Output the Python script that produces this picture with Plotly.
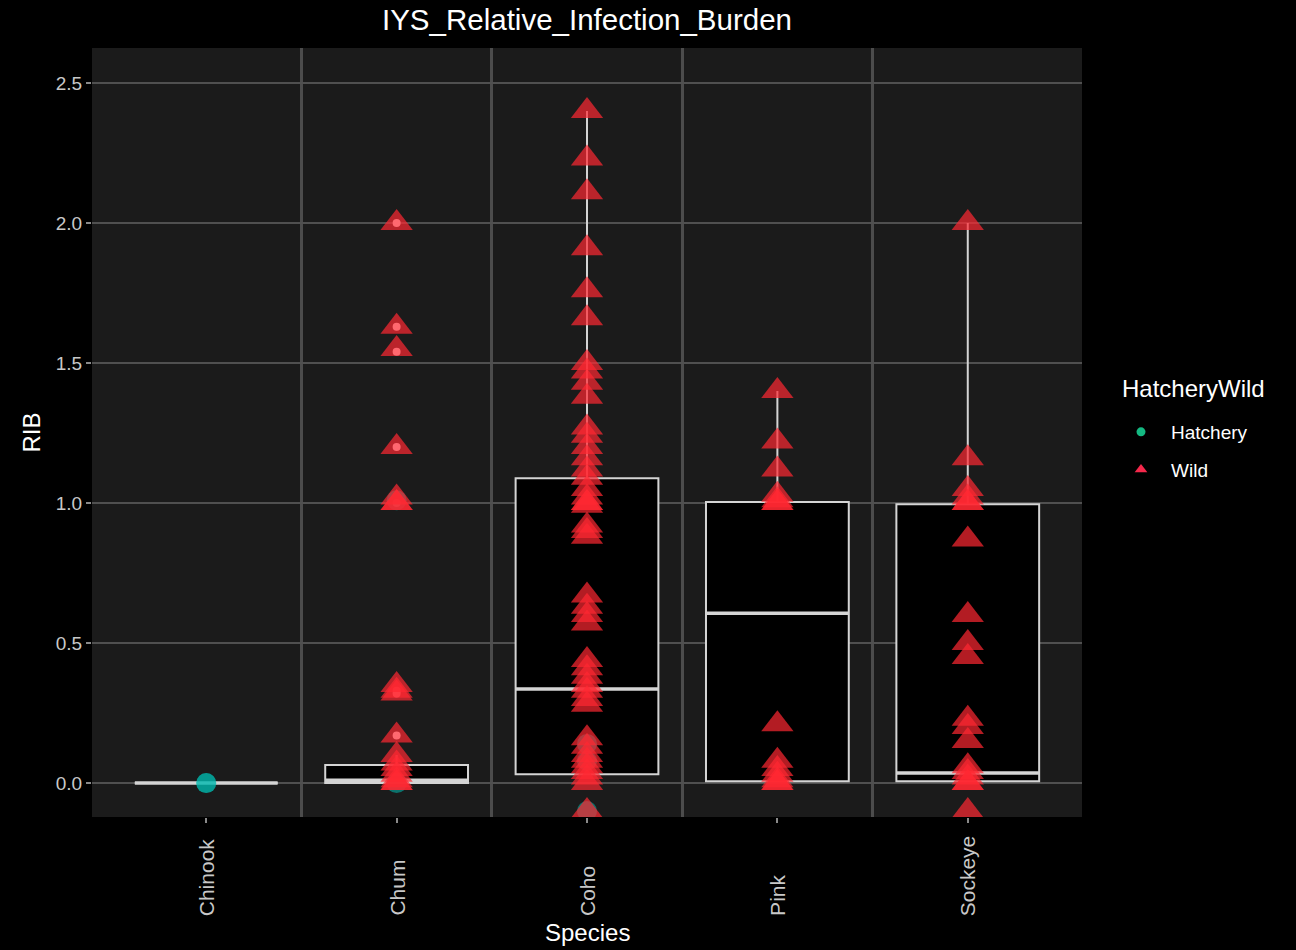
import plotly.graph_objects as go

# ---------------- data ----------------
species = ["Chinook", "Chum", "Coho", "Pink", "Sockeye"]

# box statistics (per species)
box_q1 = [0.0, 0.0, 0.032, 0.007, 0.007]
box_median = [0.0, 0.01, 0.336, 0.607, 0.036]
box_q3 = [0.0, 0.065, 1.089, 1.004, 0.996]
box_lower = [0.0, 0.0, 0.032, 0.007, 0.007]
box_upper = [0.0, 0.10, 2.40, 1.40, 2.00]

# boxplot outliers (Chum)
chum_outliers = [2.0, 1.63, 1.54, 1.2, 1.0, 0.33, 0.32, 0.17]

# Hatchery points
hatch_chinook = [0.0, 0.0]
hatch_chum = [1.01, 0.0]
hatch_coho = [0.14, 0.08, -0.1]
hatch_pink = []
hatch_sockeye = []

# Wild points
wild_chinook = []
wild_chum = [2.0, 1.63, 1.55, 1.2, 1.02, 1.0, 1.0, 0.35, 0.33, 0.32, 0.17,
             0.1, 0.07, 0.05, 0.03, 0.01, 0.0, 0.0]
wild_coho = [2.4, 2.23, 2.11, 1.91, 1.76, 1.66, 1.5, 1.47, 1.43, 1.38, 1.27,
             1.24, 1.2, 1.16, 1.12, 1.09, 1.05, 1.02, 1.0, 1.0, 0.99, 0.92,
             0.9, 0.88, 0.67, 0.63, 0.6, 0.57, 0.44, 0.41, 0.38, 0.35, 0.33,
             0.3, 0.28, 0.16, 0.13, 0.1, 0.08, 0.06, 0.04, 0.02, 0.0, -0.1]
wild_pink = [1.4, 1.22, 1.12, 1.03, 1.01, 1.0, 1.0, 0.21, 0.08, 0.05, 0.03,
             0.01, 0.0, 0.0]
wild_sockeye = [2.0, 1.16, 1.05, 1.02, 1.0, 1.0, 0.87, 0.6, 0.5, 0.45, 0.23,
                0.2, 0.15, 0.06, 0.04, 0.02, 0.0, 0.0, -0.1]

y_ticks = [0.0, 0.5, 1.0, 1.5, 2.0, 2.5]
legend_title = "HatcheryWild"
x_title = "Species"
y_title = "RIB"
chart_title = "IYS_Relative_Infection_Burden"

# ---------------- build ----------------
hatch_groups = [hatch_chinook, hatch_chum, hatch_coho, hatch_pink, hatch_sockeye]
wild_groups = [wild_chinook, wild_chum, wild_coho, wild_pink, wild_sockeye]

def flatten(groups):
    xs, ys = [], []
    for i, g in enumerate(groups):
        xs += [i] * len(g)
        ys += list(g)
    return xs, ys

hx, hy = flatten(hatch_groups)
wx, wy = flatten(wild_groups)
idx = list(range(len(species)))

BOX_LINE = "#d4d4d4"
HATCH = "rgb(0,185,175)"
WILD = "rgb(255,40,50)"
FONT = "Liberation Sans, Arial"

# plot area in pixels
L, R, T, B = 92, 1082, 48, 817
def px_x(p):
    return (p - L) / (R - L)
def px_y(p):
    return (B - p) / (B - T)

fig = go.Figure()

fig.add_trace(go.Box(
    x=idx, q1=box_q1, median=box_median, q3=box_q3,
    lowerfence=box_lower, upperfence=box_upper,
    width=0.75, whiskerwidth=0, fillcolor="black",
    line=dict(color=BOX_LINE, width=2),
    boxpoints=False, showlegend=False, hoverinfo="skip",
))
# thicker median bar (ggplot fatten)
fig.add_trace(go.Box(
    x=idx, q1=box_median, median=box_median, q3=box_median,
    lowerfence=box_median, upperfence=box_median,
    width=0.75, whiskerwidth=0, fillcolor="rgba(0,0,0,0)",
    line=dict(color=BOX_LINE, width=3.5),
    boxpoints=False, showlegend=False, hoverinfo="skip",
))

fig.add_trace(go.Scatter(
    x=[species.index("Chum")] * len(chum_outliers), y=chum_outliers,
    mode="markers", marker=dict(color="white", size=8, symbol="circle"),
    showlegend=False, hoverinfo="skip",
))

fig.add_trace(go.Scatter(
    x=hx, y=hy, mode="markers", name="Hatchery",
    marker=dict(color=HATCH, size=20, symbol="circle", line=dict(width=0),
                opacity=0.55),
    showlegend=False,
))

fig.add_trace(go.Scatter(
    x=wx, y=wy, mode="markers", name="Wild",
    marker=dict(color=WILD, size=28, symbol="triangle-up", line=dict(width=0),
                opacity=0.7),
    showlegend=False,
))

# legend entries
fig.add_trace(go.Scatter(
    x=[None], y=[None], mode="markers", name="Hatchery", legendgroup="h",
    marker=dict(color="rgb(20,185,130)", size=9, symbol="circle"),
))
fig.add_trace(go.Scatter(
    x=[None], y=[None], mode="markers", name="Wild", legendgroup="w",
    marker=dict(color="rgb(245,40,75)", size=11, symbol="triangle-up"),
))

# x tick labels (rotated, bottom aligned)
for i, s in enumerate(species):
    fig.add_annotation(
        x=i, xref="x", y=px_y(918), yref="paper",
        text=s, textangle=-90, showarrow=False,
        xanchor="center", yanchor="bottom",
        font=dict(family=FONT, size=21, color="#c8c8c8"),
    )

# x axis title
fig.add_annotation(
    x=0.5, xref="paper", y=px_y(932), yref="paper",
    text=x_title, showarrow=False, xanchor="center", yanchor="middle",
    font=dict(family=FONT, size=24, color="white"),
)

# legend title
fig.add_annotation(
    x=px_x(1120), xref="paper", y=px_y(388), yref="paper",
    text=legend_title, showarrow=False, xanchor="left", yanchor="middle",
    font=dict(family=FONT, size=24, color="white"),
)

fig.update_layout(
    width=1296, height=950,
    margin=dict(l=L, r=1296 - R, t=T, b=950 - B, autoexpand=False),
    paper_bgcolor="black",
    plot_bgcolor="#1b1b1b",
    font=dict(family=FONT, color="white"),
    title=dict(
        text=chart_title,
        x=0.5, xref="paper", xanchor="center",
        y=1 - 20 / 950, yref="container", yanchor="middle",
        font=dict(size=29.5, color="white"),
    ),
    xaxis=dict(
        range=[-0.6, 4.6], tickvals=idx, showticklabels=False,
        ticks="outside", ticklen=5, tickcolor="#8a8a8a", tickwidth=1.5,
        showgrid=False, zeroline=False, showline=False, automargin=False,
        minor=dict(tickvals=[0.5, 1.5, 2.5, 3.5], showgrid=True,
                   gridcolor="#4c4c4c", gridwidth=3, ticks=""),
    ),
    yaxis=dict(
        range=[-0.121, 2.625], tickvals=y_ticks, tickformat=".1f",
        ticks="outside", ticklen=5, tickcolor="#8a8a8a", tickwidth=1.5,
        tickfont=dict(size=19, color="#c8c8c8"),
        showgrid=True, gridcolor="#505050", gridwidth=2,
        zeroline=False, showline=False, automargin=False,
        title=dict(text=y_title, font=dict(size=24, color="white"), standoff=8),
    ),
    legend=dict(
        font=dict(size=19, color="white"),
        x=px_x(1111), xanchor="left",
        y=px_y(413), yanchor="top",
        itemwidth=50, tracegroupgap=10,
        bgcolor="rgba(0,0,0,0)",
    ),
    showlegend=True,
)

fig.write_html("out.html")
